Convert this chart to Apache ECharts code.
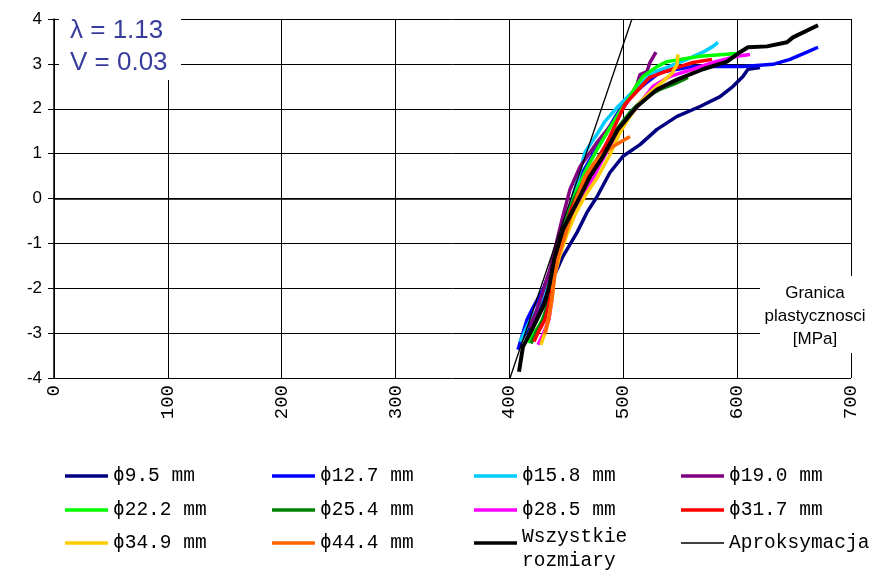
<!DOCTYPE html>
<html><head><meta charset="utf-8">
<script src="https://cdn.jsdelivr.net/npm/echarts@6/dist/echarts.min.js"></script>
<style>html,body{margin:0;padding:0;background:#fff}#c{width:886px;height:572px}</style>
</head><body><div id="c"></div>
<script>
// [yield strength MPa, standardized normal quantile]
const s9_5 = [[411.0,-3.14],[422.5,-2.65],[433.9,-2.03],[441.8,-1.58],[447.0,-1.29],[459.3,-0.76],[468.1,-0.31],[476.9,0.04],[488.3,0.58],[499.7,0.94],[514.7,1.20],[529.6,1.54],[547.2,1.83],[567.4,2.05],[585.0,2.27],[596.4,2.50],[605.1,2.72],[609.5,2.88],[620.1,2.92]];
const s12_7 = [[407.5,-3.37],[415.4,-2.70],[420.7,-2.43],[429.5,-2.03],[438.3,-1.43],[447.0,-0.69],[453.2,-0.18],[459.3,0.36],[470.8,0.87],[483.9,1.43],[492.7,1.81],[503.3,2.21],[520.8,2.59],[532.2,2.81],[561.2,2.94],[605.1,2.94],[631.5,2.99],[646.4,3.10],[661.3,3.26],[671.0,3.37]];
const s15_8 = [[409.3,-3.19],[416.3,-2.81],[424.2,-2.47],[433.0,-1.92],[440.9,-1.32],[448.8,-0.58],[457.6,0.20],[466.4,1.03],[476.9,1.43],[483.9,1.72],[495.4,2.05],[505.9,2.32],[514.7,2.54],[526.1,2.81],[538.4,2.92],[556.0,3.10],[570.0,3.26],[578.8,3.39],[583.2,3.48]];
const s19_0 = [[417.2,-2.88],[422.5,-2.59],[428.6,-2.14],[435.6,-1.58],[440.9,-1.03],[446.2,-0.47],[453.2,0.20],[462.0,0.71],[476.9,1.25],[491.0,1.69],[503.3,2.14],[512.0,2.54],[514.7,2.76],[520.8,2.83],[523.4,3.03],[528.7,3.26]];
const s22_2 = [[416.3,-3.21],[420.7,-3.03],[426.8,-2.81],[433.0,-2.47],[436.5,-2.03],[440.0,-1.47],[445.3,-0.91],[451.4,-0.36],[458.4,0.13],[466.4,0.60],[476.9,1.09],[488.3,1.58],[497.1,1.94],[505.9,2.27],[512.0,2.54],[517.3,2.72],[529.6,2.94],[538.4,3.05],[567.4,3.17],[599.8,3.23]];
const s25_4 = [[418.9,-3.23],[423.3,-2.99],[429.5,-2.70],[434.7,-2.25],[438.3,-1.69],[442.6,-1.14],[448.8,-0.58],[456.7,-0.02],[467.2,0.47],[479.5,0.98],[492.7,1.49],[505.9,1.92],[519.1,2.25],[532.2,2.43],[545.4,2.56],[556.8,2.70]];
const s28_5 = [[425.1,-3.26],[429.5,-3.03],[434.7,-2.70],[437.4,-2.25],[439.2,-1.69],[444.4,-1.14],[451.4,-0.62],[460.2,-0.13],[470.8,0.31],[479.5,0.76],[486.6,1.09],[497.1,1.58],[510.3,1.98],[526.1,2.50],[541.0,2.72],[561.2,2.88],[578.8,3.03],[599.8,3.17],[611.3,3.21]];
const s31_7 = [[421.6,-3.19],[425.1,-2.99],[431.2,-2.70],[434.7,-2.36],[438.3,-1.87],[441.8,-1.32],[447.0,-0.80],[454.1,-0.25],[463.7,0.27],[475.2,0.76],[485.7,1.25],[494.5,1.72],[501.5,2.10],[512.0,2.39],[519.1,2.59],[523.4,2.70],[534.9,2.81],[547.2,2.92],[561.2,3.03],[577.9,3.10]];
const s34_9 = [[427.7,-3.26],[431.2,-2.99],[433.9,-2.74],[437.4,-2.25],[439.2,-1.76],[444.4,-1.25],[450.5,-0.80],[457.6,-0.36],[467.2,0.09],[477.8,0.49],[488.3,0.98],[497.1,1.47],[505.9,1.83],[514.7,2.14],[523.4,2.36],[534.9,2.61],[542.8,2.79],[547.2,2.99],[548.0,3.21]];
const s44_4 = [[431.2,-3.03],[434.7,-2.65],[437.4,-2.21],[440.0,-1.69],[442.6,-1.32],[447.0,-0.98],[450.5,-0.69],[454.9,-0.31],[459.3,0.04],[466.4,0.49],[473.4,0.76],[479.5,0.94],[490.9,1.16],[505.9,1.38]];
const sAll = [[408.4,-3.86],[411.9,-3.30],[419.8,-2.92],[425.1,-2.65],[431.2,-2.32],[435.6,-1.87],[439.2,-1.36],[447.0,-0.69],[459.3,-0.09],[470.8,0.49],[482.2,0.94],[495.4,1.54],[512.0,2.05],[529.6,2.43],[547.2,2.65],[570.0,2.88],[591.1,3.05],[602.5,3.26],[609.5,3.37],[626.2,3.39],[643.8,3.48],[649.0,3.59],[671.0,3.86]];
const sApprox = [[400.5,-4],[507.6,4]];

const seriesNames = ['ϕ9.5 mm','ϕ12.7 mm','ϕ15.8 mm','ϕ19.0 mm','ϕ22.2 mm','ϕ25.4 mm','ϕ28.5 mm','ϕ31.7 mm','ϕ34.9 mm','ϕ44.4 mm','Wszystkie rozmiary','Aproksymacja'];
const seriesData = [s9_5,s12_7,s15_8,s19_0,s22_2,s25_4,s28_5,s31_7,s34_9,s44_4,sAll,sApprox];
const colors = ['#000080','#0000ff','#00ccff','#800080','#00ff00','#008000','#ff00ff','#ff0000','#ffcc00','#ff6600','#000000','#000000'];
const widths = [3.5,3.5,3.5,3.5,3.5,3.5,3.5,3.5,3.5,3.5,4,1.3];
const xTicks = [0,700,100];
const yTicks = [-4,4,1];

const legendPos = [[65,466],[272,466],[474,466],[681,466],[65,500],[272,500],[474,500],[681,500],[65,533],[272,533],[474,513],[681,533]];

const chart = echarts.init(document.getElementById('c'), null, {renderer:'canvas'});
const mono = 'Liberation Mono, DejaVu Sans Mono, monospace';
const sans = 'Liberation Sans, Arial, sans-serif';

const legends = seriesNames.map((n,i)=>{
  const lg = {
    data:[n], left:legendPos[i][0], top:legendPos[i][1], padding:0,
    icon:'rect', itemWidth:43, itemHeight: i===11 ? 1.5 : 3.5, selectedMode:false,
    itemStyle:{color:colors[i]},
    textStyle:{fontFamily:mono, fontSize:19.5, color:'#000'}
  };
  if (i===10) {
    lg.formatter = () => '{s|}\n{t|Wszystkie}\n{t|rozmiary}';
    lg.textStyle.rich = {
      s:{height:12, fontSize:1, lineHeight:12},
      t:{fontFamily:mono, fontSize:19.5, lineHeight:24, color:'#000'}
    };
  }
  return lg;
});

const series = seriesNames.map((n,i)=>({
  name:n, type:'line', data:seriesData[i], showSymbol:false, symbol:'none',
  lineStyle:{color:colors[i], width:widths[i]}, itemStyle:{color:colors[i]},
  z: i>=10 ? 5 : 3, animation:false
}));

chart.setOption({
  animation:false,
  backgroundColor:'#fff',
  grid:{left:54, right:35, top:19, bottom:194},
  xAxis:{type:'value', min:xTicks[0], max:xTicks[1], interval:xTicks[2],
    axisLine:{lineStyle:{color:'#000', width:1.5}},
    axisTick:{show:true, inside:false, length:4, lineStyle:{color:'#000'}},
    splitLine:{show:true, lineStyle:{color:'#000', width:1}},
    axisLabel:{rotate:90, margin:7, fontFamily:mono, fontSize:19, color:'#000'}},
  yAxis:{type:'value', min:yTicks[0], max:yTicks[1], interval:yTicks[2],
    axisLine:{show:true, lineStyle:{color:'#000', width:1.5}},
    axisTick:{show:true, length:6, lineStyle:{color:'#000'}},
    splitLine:{show:true, lineStyle:{color:'#000', width:1}},
    axisLabel:{margin:12, fontFamily:sans, fontSize:17, color:'#000'}},
  legend:legends,
  series:series,
  graphic:[
    {type:'rect', z:100, shape:{x:59, y:10, width:122, height:70}, style:{fill:'#fff'}},
    {type:'text', z:101, x:70, y:31, style:{text:'λ = 1.13', fill:'#383c9c', fontSize:26, fontFamily:sans, align:'left', verticalAlign:'middle'}},
    {type:'text', z:101, x:70, y:63, style:{text:'V = 0.03', fill:'#383c9c', fontSize:26, fontFamily:sans, align:'left', verticalAlign:'middle'}},
    {type:'rect', z:100, shape:{x:760, y:276, width:126, height:77}, style:{fill:'#fff'}},
    {type:'text', z:101, x:815, y:316, style:{text:'Granica\nplastycznosci\n[MPa]', fill:'#000', fontSize:17, fontFamily:sans, align:'center', verticalAlign:'middle', lineHeight:23}}
  ]
});
</script></body></html>
